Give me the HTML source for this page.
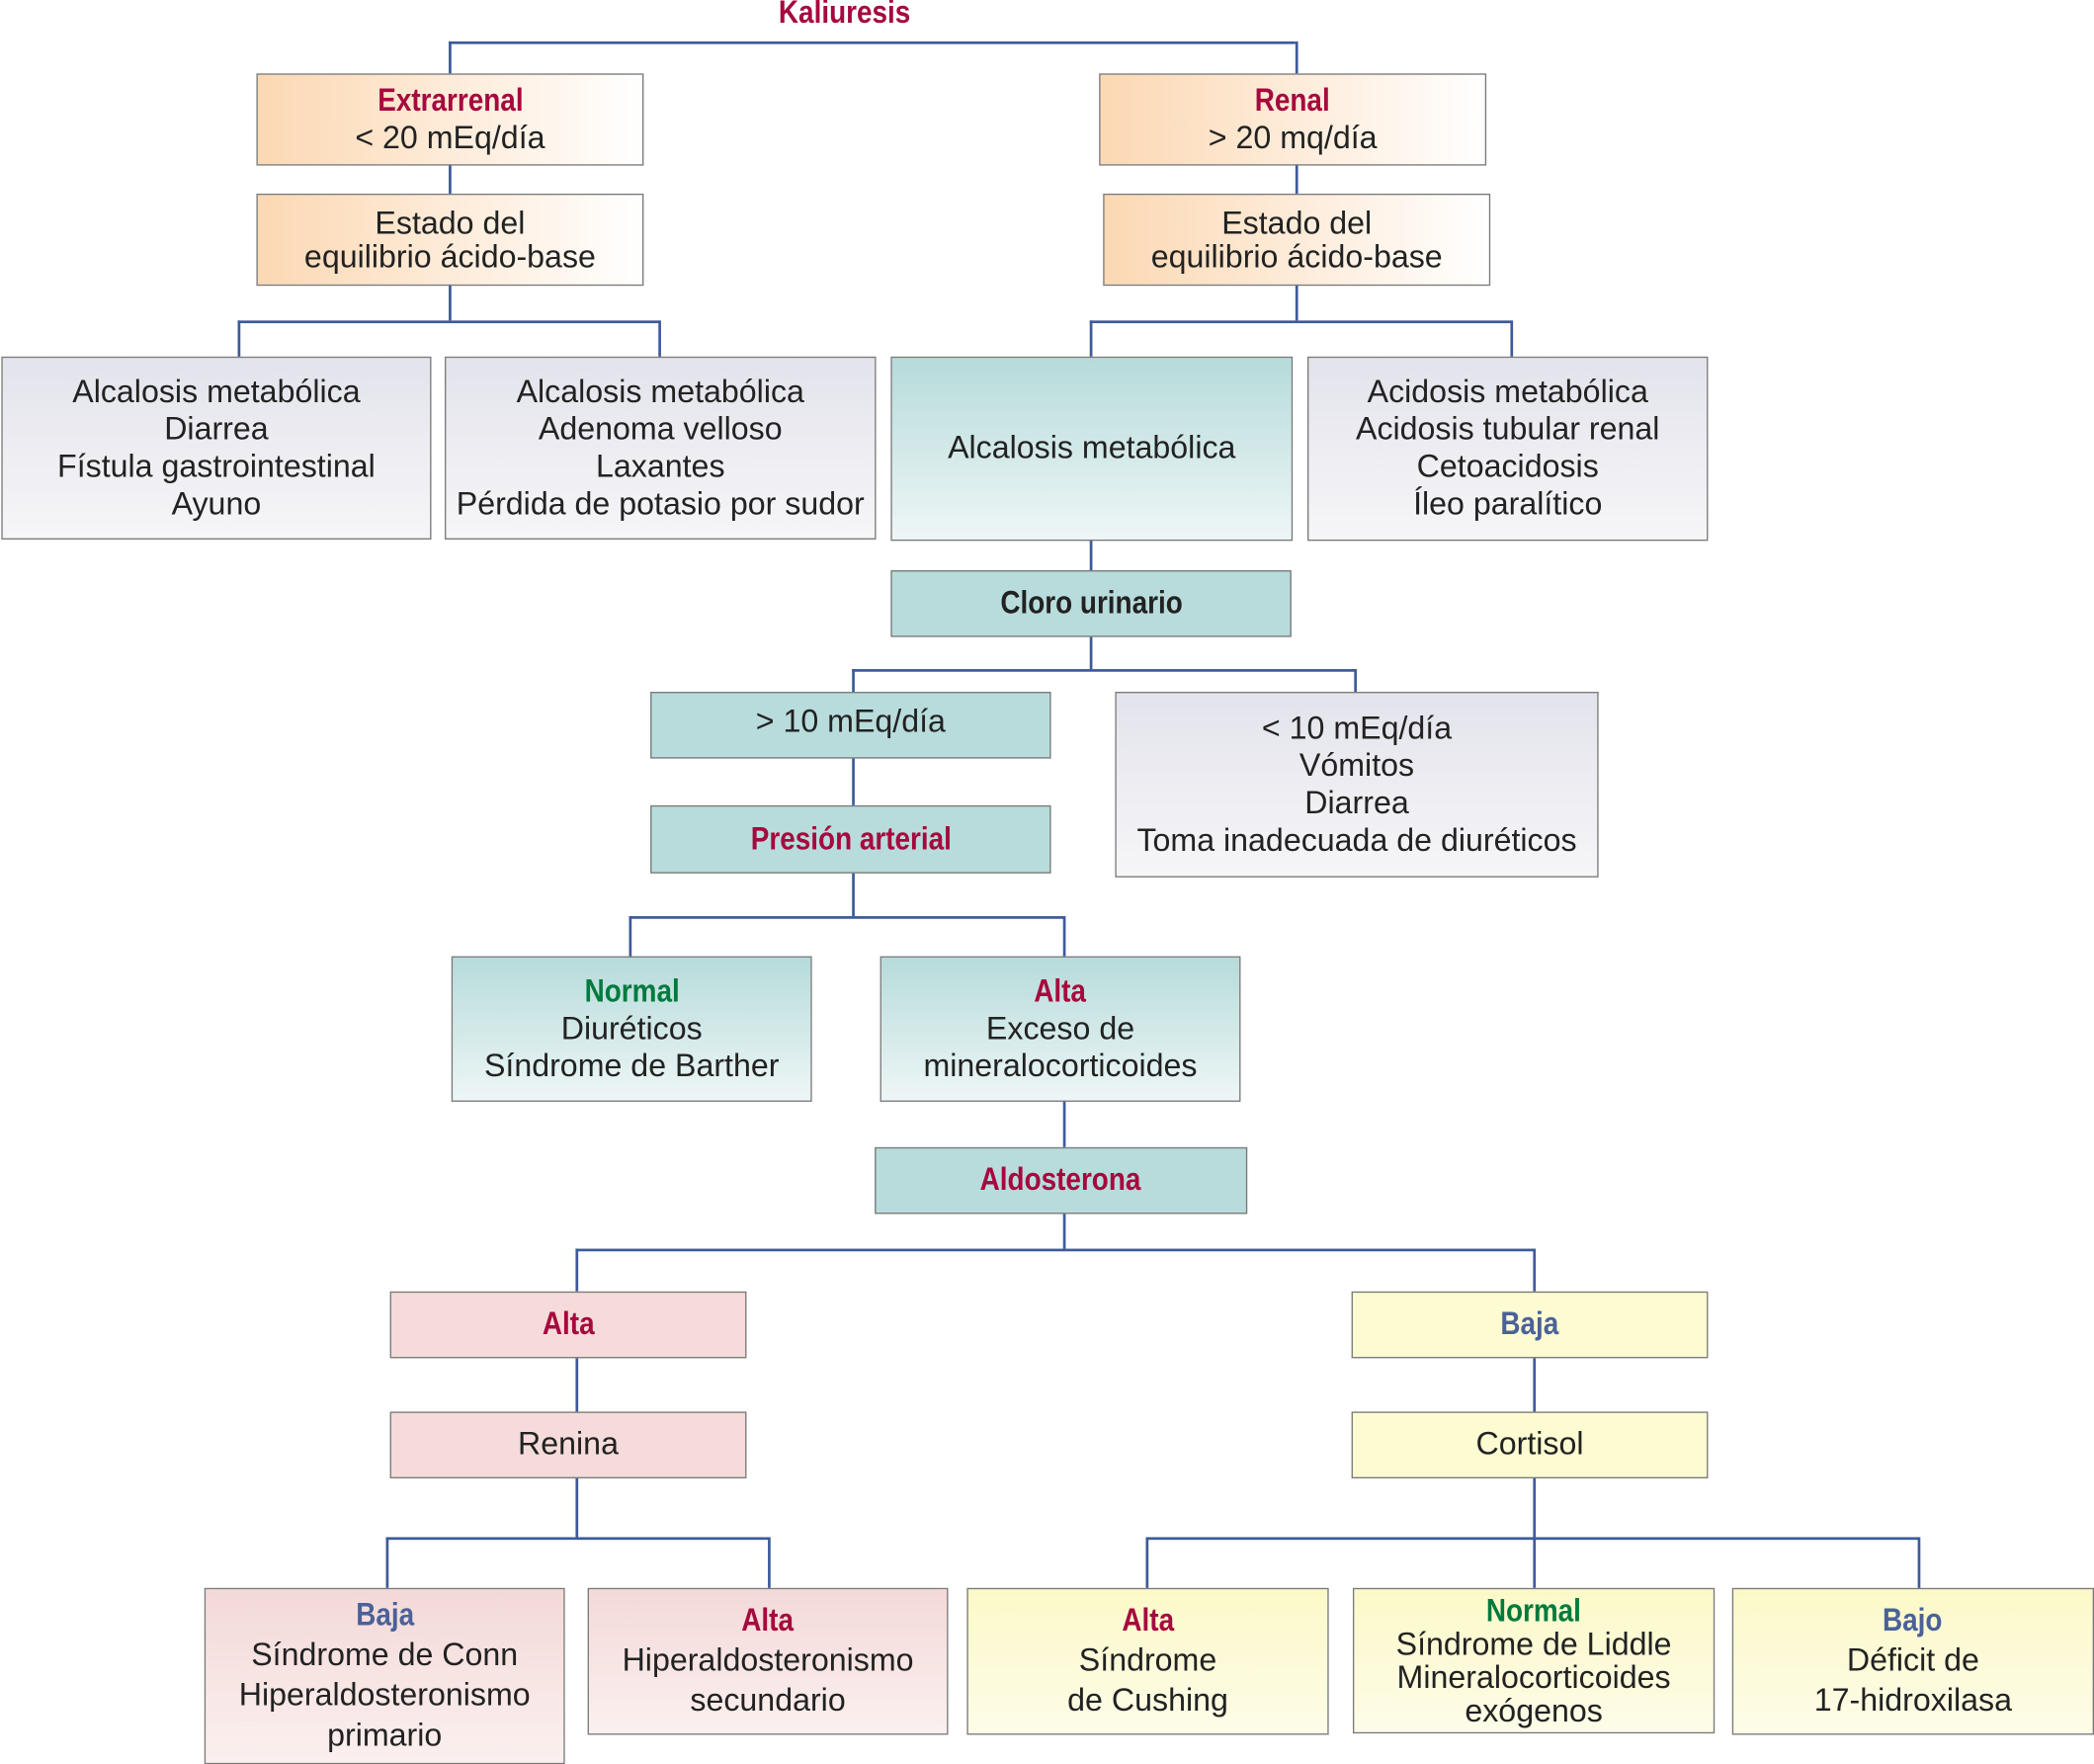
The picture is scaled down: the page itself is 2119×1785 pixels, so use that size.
<!DOCTYPE html>
<html><head><meta charset="utf-8"><style>
html,body{margin:0;padding:0;background:#fff;}
#wrap{position:relative;width:1568px;height:1320px;transform:scale(1.35140);transform-origin:0 0;font-family:"Liberation Sans",sans-serif;color:#222;}
.b{position:absolute;box-sizing:border-box;border:1px solid #7a7a7a;display:flex;flex-direction:column;align-items:center;justify-content:center;text-align:center;font-size:23.8px;line-height:28px;white-space:nowrap;}
.o{background:linear-gradient(to right,#fcd8b3,#fff);}
.g{background:linear-gradient(to bottom,#e3e3ec,#f6f6f8);}
.t{background:linear-gradient(to bottom,#b6dbda,#eef6f6);}
.ts{background:#b8dcdb;}
.p{background:#f5dcdb;}
.pg{background:linear-gradient(to bottom,#f3d9d8,#fbf0ef);}
.y{background:#fdfbd1;}
.yg{background:linear-gradient(to bottom,#fcf9c8,#fdfce8);}
.h{font-family:"Liberation Sans Narrow","Liberation Sans",sans-serif;font-weight:bold;font-size:24px;display:inline-block;transform:scaleX(0.86);}
.r{color:#a6093d}.bl{color:#4b6199}.gr{color:#007a3d}.k{color:#222}
.l{position:absolute;background:#3d5a99;}
.v{width:1.5px}.hz{height:1.5px}
</style></head><body><div id="wrap">
<div style="position:absolute;left:532px;top:-4px;width:200px;text-align:center;"><span class="h r">Kaliuresis</span></div>
<!-- lines -->
<div class="l v" style="left:336px;top:31px;height:24px"></div>
<div class="l hz" style="left:336px;top:31px;width:634px"></div>
<div class="l v" style="left:970px;top:31px;height:24px"></div>
<div class="l v" style="left:336px;top:123px;height:22px"></div>
<div class="l v" style="left:970px;top:123px;height:22px"></div>
<div class="l v" style="left:336px;top:213px;height:27px"></div>
<div class="l hz" style="left:178px;top:240px;width:316px"></div>
<div class="l v" style="left:178px;top:240px;height:27px"></div>
<div class="l v" style="left:493px;top:240px;height:27px"></div>
<div class="l v" style="left:970px;top:213px;height:27px"></div>
<div class="l hz" style="left:816px;top:240px;width:316px"></div>
<div class="l v" style="left:816px;top:240px;height:27px"></div>
<div class="l v" style="left:1131px;top:240px;height:27px"></div>
<div class="l v" style="left:816px;top:404px;height:23px"></div>
<div class="l v" style="left:816px;top:476px;height:25px"></div>
<div class="l hz" style="left:638px;top:501px;width:377px"></div>
<div class="l v" style="left:638px;top:501px;height:17px"></div>
<div class="l v" style="left:1014px;top:501px;height:17px"></div>
<div class="l v" style="left:638px;top:567px;height:36px"></div>
<div class="l v" style="left:638px;top:653px;height:33px"></div>
<div class="l hz" style="left:471px;top:686px;width:326px"></div>
<div class="l v" style="left:471px;top:686px;height:30px"></div>
<div class="l v" style="left:796px;top:686px;height:30px"></div>
<div class="l v" style="left:796px;top:824px;height:35px"></div>
<div class="l v" style="left:796px;top:908px;height:27px"></div>
<div class="l hz" style="left:431px;top:935px;width:718px"></div>
<div class="l v" style="left:431px;top:935px;height:32px"></div>
<div class="l v" style="left:1148px;top:935px;height:32px"></div>
<div class="l v" style="left:431px;top:1016px;height:41px"></div>
<div class="l v" style="left:1148px;top:1016px;height:41px"></div>
<div class="l v" style="left:431px;top:1106px;height:45px"></div>
<div class="l hz" style="left:289px;top:1151px;width:287px"></div>
<div class="l v" style="left:289px;top:1151px;height:38px"></div>
<div class="l v" style="left:575px;top:1151px;height:38px"></div>
<div class="l v" style="left:1148px;top:1106px;height:83px"></div>
<div class="l hz" style="left:858px;top:1151px;width:579px"></div>
<div class="l v" style="left:858px;top:1151px;height:38px"></div>
<div class="l v" style="left:1436px;top:1151px;height:38px"></div>
<!-- boxes -->
<div class="b o" style="left:192px;top:55px;width:290px;height:69px"><span class="h r">Extrarrenal</span><span>&lt; 20 mEq/día</span></div>
<div class="b o" style="left:192px;top:145px;width:290px;height:69px;line-height:25px"><span>Estado del</span><span>equilibrio ácido-base</span></div>
<div class="b o" style="left:823px;top:55px;width:290px;height:69px"><span class="h r">Renal</span><span>&gt; 20 mq/día</span></div>
<div class="b o" style="left:826px;top:145px;width:290px;height:69px;line-height:25px"><span>Estado del</span><span>equilibrio ácido-base</span></div>
<div class="b g" style="left:1px;top:267px;width:322px;height:137px"><span>Alcalosis metabólica</span><span>Diarrea</span><span>Fístula gastrointestinal</span><span>Ayuno</span></div>
<div class="b g" style="left:333px;top:267px;width:323px;height:137px"><span>Alcalosis metabólica</span><span>Adenoma velloso</span><span>Laxantes</span><span>Pérdida de potasio por sudor</span></div>
<div class="b t" style="left:667px;top:267px;width:301px;height:138px"><span>Alcalosis metabólica</span></div>
<div class="b g" style="left:979px;top:267px;width:300px;height:138px"><span>Acidosis metabólica</span><span>Acidosis tubular renal</span><span>Cetoacidosis</span><span>Íleo paralítico</span></div>
<div class="b ts" style="left:667px;top:427px;width:300px;height:50px"><span class="h k">Cloro urinario</span></div>
<div class="b ts" style="left:487px;top:518px;width:300px;height:50px;justify-content:flex-start;padding-top:8px"><span>&gt; 10 mEq/día</span></div>
<div class="b g" style="left:835px;top:518px;width:362px;height:139px"><span>&lt; 10 mEq/día</span><span>Vómitos</span><span>Diarrea</span><span>Toma inadecuada de diuréticos</span></div>
<div class="b ts" style="left:487px;top:603px;width:300px;height:51px"><span class="h r">Presión arterial</span></div>
<div class="b t" style="left:338px;top:716px;width:270px;height:109px"><span class="h gr">Normal</span><span>Diuréticos</span><span>Síndrome de Barther</span></div>
<div class="b t" style="left:659px;top:716px;width:270px;height:109px"><span class="h r">Alta</span><span>Exceso de</span><span>mineralocorticoides</span></div>
<div class="b ts" style="left:655px;top:859px;width:279px;height:50px"><span class="h r">Aldosterona</span></div>
<div class="b p" style="left:292px;top:967px;width:267px;height:50px"><span class="h r">Alta</span></div>
<div class="b p" style="left:292px;top:1057px;width:267px;height:50px"><span>Renina</span></div>
<div class="b y" style="left:1012px;top:967px;width:267px;height:50px"><span class="h bl">Baja</span></div>
<div class="b y" style="left:1012px;top:1057px;width:267px;height:50px"><span>Cortisol</span></div>
<div class="b pg" style="left:153px;top:1189px;width:270px;height:132px;line-height:30px"><span class="h bl">Baja</span><span>Síndrome de Conn</span><span>Hiperaldosteronismo</span><span>primario</span></div>
<div class="b pg" style="left:440px;top:1189px;width:270px;height:110px;line-height:30px"><span class="h r">Alta</span><span>Hiperaldosteronismo</span><span>secundario</span></div>
<div class="b yg" style="left:724px;top:1189px;width:271px;height:110px;line-height:30px"><span class="h r">Alta</span><span>Síndrome</span><span>de Cushing</span></div>
<div class="b yg" style="left:1013px;top:1189px;width:271px;height:109px;line-height:25px"><span class="h gr">Normal</span><span>Síndrome de Liddle</span><span>Mineralocorticoides</span><span>exógenos</span></div>
<div class="b yg" style="left:1297px;top:1189px;width:271px;height:110px;line-height:30px"><span class="h bl">Bajo</span><span>Déficit de</span><span>17-hidroxilasa</span></div>
</div></body></html>
